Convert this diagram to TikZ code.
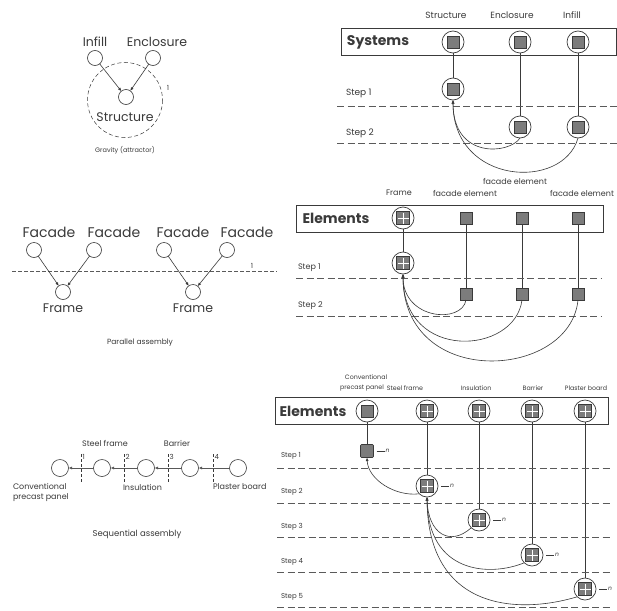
\documentclass[tikz,border=0pt]{standalone}
\usepackage{fontspec}
\setmainfont{Poppins}
\usetikzlibrary{arrows.meta,calc}
\definecolor{ink}{HTML}{3A3A3A}
\definecolor{cellgrey}{HTML}{7C7C7C}
\definecolor{rulegrey}{HTML}{5A5A5A}
\begin{document}
\begin{tikzpicture}[x=1pt,y=-1pt,
  every node/.style={inner sep=0pt,outer sep=0pt,text=ink},
  ring/.style={circle,draw=ink,line width=0.6pt,minimum size=15pt},
  bigring/.style={circle,draw=ink,line width=0.7pt,minimum size=22pt},
  sq/.style={rectangle,draw=ink,fill=cellgrey,line width=0.6pt,minimum size=12pt},
  solidicon/.style={path picture={
      \fill[cellgrey,draw=ink,line width=0.5pt]
        ([shift={(-6,-6)}]path picture bounding box.center) rectangle
        ([shift={(6,6)}]path picture bounding box.center);}},
  gridicon/.style={path picture={
      \fill[cellgrey,draw=ink,line width=0.5pt]
        ([shift={(-6.5,-6.5)}]path picture bounding box.center) rectangle
        ([shift={(6.5,6.5)}]path picture bounding box.center);
      \draw[white,line width=0.9pt]
        ([shift={(-5.5,0)}]path picture bounding box.center) --
        ([shift={(5.5,0)}]path picture bounding box.center)
        ([shift={(0,-5.5)}]path picture bounding box.center) --
        ([shift={(0,5.5)}]path picture bounding box.center);}},
  link/.style={draw=ink,line width=0.6pt},
  tip/.style={-{Latex[length=3.5pt,width=3pt]}},
  boxline/.style={draw=ink,line width=0.8pt},
  stepline/.style={draw=rulegrey,line width=0.6pt,dash pattern=on 7pt off 3.5pt},
  bigtxt/.style={font=\fontsize{12.5}{13}\selectfont},
  facetxt/.style={font=\fontsize{14}{15}\selectfont},
  headtxt/.style={font=\fontsize{14}{15}\bfseries\selectfont},
  sysltxt/.style={font=\fontsize{9}{10}\selectfont},
  elemtxt/.style={font=\fontsize{8}{9}\selectfont},
  layertxt/.style={font=\fontsize{6.3}{7}\selectfont},
  laystep/.style={font=\fontsize{7}{8}\selectfont},
  seqtxt/.style={font=\fontsize{8}{9}\selectfont},
  numtxt/.style={font=\fontsize{7}{8}\selectfont},
  nlabel/.style={font=\fontsize{6}{6}\itshape\selectfont},
]
\useasboundingbox[fill=white] (0,0) rectangle (617,610);

% ---------- gravity (attractor) ----------
\node[bigtxt] (tInf) at (95,42) {Infill};
\node[bigtxt] (tEnc) at (157,42) {Enclosure};
\node[ring] (inf) at (95,58) {};
\node[ring] (enc) at (153,58) {};
\node[ring] (str) at (126,97) {};
\node[bigtxt] (tStr) at (125,117) {Structure};
\draw[link,line width=0.5pt,dash pattern=on 4pt off 2.5pt] (125,100) circle[radius=37.5];
\node[numtxt] (one1) at (168,88) {1};
\node[font=\fontsize{6.5}{7}\selectfont] (grav) at (125,150) {Gravity (attractor)};
\draw[link,tip] (inf) -- (str);
\draw[link,tip] (enc) -- (str);

% ---------- parallel assembly ----------
\node[facetxt] (fa1) at (49,232) {Facade};
\node[facetxt] (fa2) at (114,232) {Facade};
\node[facetxt] (fa3) at (183,232) {Facade};
\node[facetxt] (fa4) at (247,232) {Facade};
\node[ring] (f1) at (34,250) {};
\node[ring] (f2) at (94,250) {};
\node[ring] (f3) at (164,250) {};
\node[ring] (f4) at (227,250) {};
\node[ring] (fr1) at (63,292) {};
\node[ring] (fr2) at (193,292) {};
\node[bigtxt] (tfr1) at (63,308) {Frame};
\node[bigtxt] (tfr2) at (193,308) {Frame};
\draw[stepline,line width=0.5pt,dash pattern=on 4pt off 2pt] (12,271) -- (277,271);
\node[numtxt] (one2) at (252,266) {1};
\draw[link,tip] (f1) -- (fr1);
\draw[link,tip] (f2) -- (fr1);
\draw[link,tip] (f3) -- (fr2);
\draw[link,tip] (f4) -- (fr2);
\node[font=\fontsize{7.5}{8}\selectfont] (par) at (140,343) {Parallel assembly};

% ---------- sequential assembly ----------
\node[ring,minimum size=17pt] (c1) at (60,468) {};
\node[ring,minimum size=17pt] (c2) at (102,468) {};
\node[ring,minimum size=17pt] (c3) at (146,468) {};
\node[ring,minimum size=17pt] (c4) at (190,468) {};
\node[ring,minimum size=17pt] (c5) at (238,468) {};
\foreach \a/\b in {c2/c1,c3/c2,c4/c3,c5/c4}
  \draw[draw=ink!85,line width=1pt,tip] (\a) -- (\b);
\foreach \x/\n in {81/1,124/2,168/3,213/4}{
  \draw[link,line width=0.5pt,dash pattern=on 3pt off 2pt] (\x,454) -- (\x,482);
  \node[numtxt,anchor=west] (mk\n) at (\x+1.5,457) {\n};
}
\node[seqtxt] (tsf) at (105,443) {Steel frame};
\node[seqtxt] (tba) at (177,443) {Barrier};
\node[seqtxt,anchor=west] (tcv) at (13,486) {Conventional};
\node[seqtxt,anchor=west] (tpp) at (13,498) {precast panel};
\node[seqtxt,anchor=west] (tin) at (123,487) {Insulation};
\node[seqtxt,anchor=west] (tpb) at (213,487) {Plaster board};
\node[font=\fontsize{8.5}{9}\selectfont] (seq) at (137,534) {Sequential assembly};

% ---------- systems ----------
\draw[boxline] (341,28) rectangle (616,55);
\node[headtxt] (sys) at (378,42) {Systems};
\node[sysltxt] (hst) at (446,15) {Structure};
\node[sysltxt] (hen) at (512,15) {Enclosure};
\node[sysltxt] (hin) at (572,15) {Infill};
\node[bigring,solidicon] (t0) at (453,42) {};
\node[bigring,solidicon] (e0) at (520,42) {};
\node[bigring,solidicon] (i0) at (578,42) {};
\node[bigring,solidicon] (t1) at (453,89) {};
\node[bigring,solidicon] (e2) at (520,127) {};
\node[bigring,solidicon] (i2) at (578,127) {};
\draw[link] (t0) -- (t1);
\draw[link] (e0) -- (e2);
\draw[link] (i0) -- (i2);
\draw[stepline] (337,106) -- (617,106);
\draw[stepline] (337,143) -- (617,143);
\node[sysltxt,anchor=west] (sA1) at (346,93) {Step 1};
\node[sysltxt,anchor=west] (sA2) at (346,133) {Step 2};
\draw[link,tip] (e2.south) .. controls +(-10,16) and +(0,60) .. (t1.south);
\draw[link,tip] (i2.south) .. controls +(-15,53) and +(0,85) .. (t1.south);

% ---------- elements: frame and facade ----------
\node[elemtxt] (hfe0) at (515,181) {facade element};
\node[elemtxt] (hfr) at (399,193) {Frame};
\node[elemtxt] (hfe1) at (465,193) {facade element};
\node[elemtxt] (hfe2) at (582,193) {facade element};
\draw[boxline] (296,205) rectangle (603,232);
\node[headtxt] (elB) at (336,218) {Elements};
\node[bigring,gridicon] (m0) at (403,218) {};
\node[sq] (q1t) at (466,218) {};
\node[sq] (q2t) at (522,218) {};
\node[sq] (q3t) at (578,218) {};
\node[bigring,gridicon] (m1) at (403,263) {};
\node[sq] (q1) at (466,294) {};
\node[sq] (q2) at (522,294) {};
\node[sq] (q3) at (578,294) {};
\draw[link] (m0) -- (m1);
\draw[link] (q1t) -- (q1);
\draw[link] (q2t) -- (q2);
\draw[link] (q3t) -- (q3);
\draw[stepline] (296,278) -- (602,278);
\draw[stepline] (296,316) -- (602,316);
\node[elemtxt,anchor=west] (sB1) at (298,268) {Step 1};
\node[elemtxt,anchor=west] (sB2) at (298,306) {Step 2};
\draw[link,tip] (q1.south) .. controls +(-4,24) and +(0,46) .. (m1.south);
\draw[link,tip] (q2.south) .. controls +(-7,55) and +(0,88) .. (m1.south);
\draw[link,tip] (q3.south) .. controls +(-8,80) and +(0,116) .. (m1.south);

% ---------- elements: sequential layers ----------
\node[layertxt] (hcv) at (366,377) {Conventional};
\node[layertxt] (hpp) at (362,388) {precast panel};
\node[layertxt] (hsf) at (405,388) {Steel frame};
\node[layertxt] (hin2) at (476,388) {Insulation};
\node[layertxt] (hba) at (533,388) {Barrier};
\node[layertxt] (hpb) at (586,388) {Plaster board};
\draw[boxline] (275,397) rectangle (608,424);
\node[headtxt] (elC) at (313,411) {Elements};
\node[bigring,solidicon] (b1) at (367,411) {};
\node[bigring,gridicon] (b2) at (427,411) {};
\node[bigring,gridicon] (b3) at (479,411) {};
\node[bigring,gridicon] (b4) at (532,411) {};
\node[bigring,gridicon] (b5) at (585,411) {};
\node[sq,minimum size=13pt,rounded corners=1pt] (p1) at (367,451) {};
\node[bigring,gridicon] (s2) at (427,486) {};
\node[bigring,gridicon] (s3) at (479,520) {};
\node[bigring,gridicon] (s4) at (532,555) {};
\node[bigring,gridicon] (s5) at (585,589) {};
\foreach \u/\v in {b1/p1,b2/s2,b3/s3,b4/s4,b5/s5}
  \draw[link] (\u) -- (\v);
\foreach \v in {p1,s2,s3,s4,s5}{
  \draw[link,line width=0.4pt] ($(\v.east)+(3,0)$) -- ($(\v.east)+(11,0)$)
    node[nlabel,anchor=west,xshift=1pt] (n\v) {n};
}
\foreach \y in {468,503,537,572,607}
  \draw[stepline] (277,\y) -- (610,\y);
\node[laystep,anchor=west] (sC1) at (281,456) {Step 1};
\node[laystep,anchor=west] (sC2) at (281,492) {Step 2};
\node[laystep,anchor=west] (sC3) at (281,527) {Step 3};
\node[laystep,anchor=west] (sC4) at (281,562) {Step 4};
\node[laystep,anchor=west] (sC5) at (281,597) {Step 5};
\draw[link,tip] (s2.225) .. controls +(-24,3) and +(1,22) .. (p1.south);
\draw[link,tip] (s3.225) .. controls +(-21,19) and +(1,37) .. (s2.south);
\draw[link,tip] (s4.225) .. controls +(-34,14) and +(1,77) .. (s2.south);
\draw[link,tip] (s5.225) .. controls +(-60,18) and +(1,113) .. (s2.south);
\end{tikzpicture}
\end{document}
